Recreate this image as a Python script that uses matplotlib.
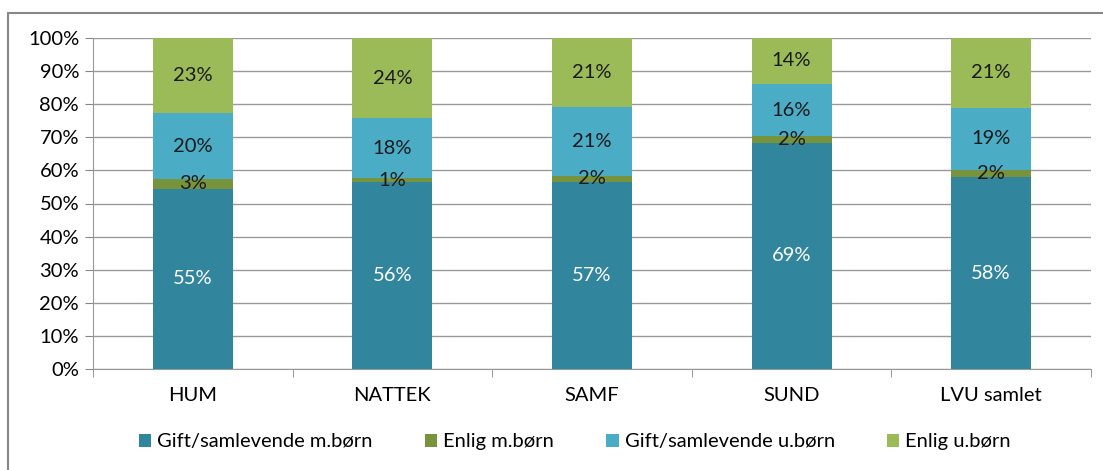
import numpy as np
import matplotlib.pyplot as plt
from matplotlib.patches import Rectangle

plt.rcParams['font.family'] = ['Lato', 'DejaVu Sans']

# Data (shown percentages)
categories = ["HUM", "NATTEK", "SAMF", "SUND", "LVU samlet"]
series_names = ["Gift/samlevende m.børn", "Enlig m.børn",
                "Gift/samlevende u.børn", "Enlig u.børn"]
gift_m_born = [55, 56, 57, 69, 58]
enlig_m_born = [3, 1, 2, 2, 2]
gift_u_born = [20, 18, 21, 16, 19]
enlig_u_born = [23, 24, 21, 14, 21]

colors = ["#31859C", "#77933C", "#4BACC6", "#9BBB59"]
label_colors = ["white", "#1a1a1a", "#1a1a1a", "#1a1a1a"]

series = np.array([gift_m_born, enlig_m_born, gift_u_born, enlig_u_born], dtype=float)
shares = series / series.sum(axis=0) * 100  # 100% stacked

fig = plt.figure(figsize=(11.03, 4.70), dpi=100)
ax = fig.add_axes([93 / 1103, 1 - 369 / 470, (1091 - 93) / 1103, (369 - 38) / 470])

# outer chart frame
fig.patches.append(Rectangle((8 / 1103, -0.1), 1.2, 1 - 13 / 470 + 0.1,
                             transform=fig.transFigure, fill=False,
                             edgecolor="#888888", linewidth=1.5))

x = np.arange(len(categories))
bottom = np.zeros(len(categories))
for i, name in enumerate(series_names):
    ax.bar(x, shares[i], 0.4, bottom=bottom, color=colors[i], label=name, zorder=3)
    for j in range(len(categories)):
        ax.text(x[j], bottom[j] + shares[i][j] / 2, f"{int(series[i][j])}%",
                ha="center", va="center", fontsize=14.5, color=label_colors[i], zorder=4)
    bottom += shares[i]

ax.set_xlim(-0.5, len(categories) - 0.5)
ax.set_ylim(0, 100)
ax.set_yticks(np.arange(0, 101, 10))
ax.set_yticklabels([f"{v}%" for v in range(0, 101, 10)], fontsize=14.5)
ax.set_xticks(x)
ax.set_xticklabels(categories, fontsize=14.5)
ax.tick_params(axis="x", length=0, pad=13)
ax.set_xticks(np.arange(-0.5, len(categories), 1), minor=True)
ax.tick_params(axis="x", which="minor", length=6, color="#888888")
ax.tick_params(axis="y", length=6, color="#888888", pad=4)
ax.grid(axis="y", color="#999999", linewidth=1, zorder=0)
for side in ["top", "right"]:
    ax.spines[side].set_visible(False)
for side in ["left", "bottom"]:
    ax.spines[side].set_color("#999999")

fig.legend(loc="center", bbox_to_anchor=(575 / 1103, 1 - 442 / 470), ncol=4,
           frameon=False, fontsize=14.5, handlelength=0.6, handleheight=0.6,
           handletextpad=0.3, columnspacing=2.6)

fig.savefig("out.png", dpi=100)
